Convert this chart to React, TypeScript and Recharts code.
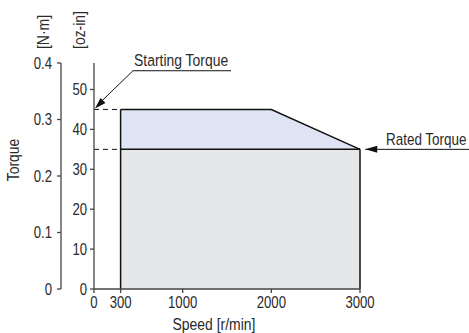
import React from "react"
import { Area, ComposedChart, ReferenceDot, ReferenceLine, XAxis, YAxis } from "recharts"

// speed-torque characteristics (torque in oz-in)
const speedRpm = [300, 2000, 3000]
const continuousOzIn = [35, 35, 35]
const limitedOzIn = [45, 45, 35]
const startingTorqueOzIn = 45
const ratedTorqueOzIn = 35

const speedTicks = [0, 300, 1000, 2000, 3000]
const nmTicks = [0, 0.1, 0.2, 0.3, 0.4]
const ozTicks = [0, 10, 20, 30, 40, 50]
const OZIN_PER_NM = 141.6
const OZ_MAX = 0.4 * OZIN_PER_NM

const FONT = "'Liberation Sans', Arial, sans-serif"
const SQUEEZE = 0.82 // fake a condensed face
const INK = "#2a2a2a"
const AXIS = "#444"

const data = speedRpm.map((s, i) => ({
  speed: s,
  cont: continuousOzIn[i],
  limited: [continuousOzIn[i], limitedOzIn[i]],
}))

function NarrowText({ x, y, anchor = "start", size = 17, rotate = 0, dy, children }: any) {
  return (
    <text
      transform={`translate(${x},${y}) rotate(${rotate}) scale(${SQUEEZE},1)`}
      textAnchor={anchor}
      dy={dy}
      fontFamily={FONT}
      fontSize={size}
      fill={INK}
    >
      {children}
    </text>
  )
}

const makeTick = (fmt: (v: number) => string, vertical: boolean) => (props: any) => (
  <NarrowText
    x={props.x}
    y={props.y}
    anchor={props.textAnchor}
    size={16}
    dy={vertical ? "0.355em" : "0.71em"}
  >
    {fmt(props.payload.value)}
  </NarrowText>
)

// axes are stacked by id: the first sorts next to the plot
const OZ = "a_oz"
const NM = "b_nm"

export default function App() {
  return (
    <div style={{ position: "absolute", left: 0, top: 0, width: 469, height: 333, background: "#fff" }}>
      <ComposedChart width={469} height={333} data={data} margin={{ top: 63, right: 109, bottom: 0, left: 0 }}>
        <XAxis
          type="number"
          dataKey="speed"
          domain={[0, 3000]}
          ticks={speedTicks}
          tick={makeTick((v) => String(v), false)}
          tickSize={4}
          tickMargin={4}
          height={44}
          stroke={AXIS}
          strokeWidth={1.3}
          interval={0}
        />
        <YAxis
          yAxisId={OZ}
          domain={[0, OZ_MAX]}
          ticks={ozTicks}
          tick={makeTick((v) => String(v), true)}
          tickSize={4}
          tickMargin={3}
          width={33}
          stroke={AXIS}
          strokeWidth={1.3}
          interval={0}
          allowDataOverflow
        />
        <YAxis
          yAxisId={NM}
          domain={[0, 0.4]}
          ticks={nmTicks}
          tick={makeTick((v) => (v === 0 ? "0" : v.toFixed(1)), true)}
          tickSize={4}
          tickMargin={5}
          width={61}
          stroke={AXIS}
          strokeWidth={1.3}
          interval={0}
          allowDataOverflow
        />
        <Area
          yAxisId={OZ}
          type="linear"
          dataKey="cont"
          fill="#e6e7e9"
          fillOpacity={1}
          stroke="#111"
          strokeWidth={1.5}
          dot={false}
          activeDot={false}
          isAnimationActive={false}
        />
        <Area
          yAxisId={OZ}
          type="linear"
          dataKey="limited"
          fill="#dfe4f4"
          fillOpacity={1}
          stroke="#111"
          strokeWidth={1.5}
          dot={false}
          activeDot={false}
          isAnimationActive={false}
        />
        {/* region edges */}
        <ReferenceLine
          yAxisId={OZ}
          segment={[{ x: speedRpm[0], y: 0 }, { x: speedRpm[0], y: limitedOzIn[0] }]}
          stroke="#111"
          strokeWidth={1.5}
        />
        <ReferenceLine
          yAxisId={OZ}
          segment={[{ x: speedRpm[2], y: 0 }, { x: speedRpm[2], y: continuousOzIn[2] }]}
          stroke="#111"
          strokeWidth={1.5}
        />
        {/* dashed guides */}
        <ReferenceLine
          yAxisId={OZ}
          segment={[{ x: 0, y: startingTorqueOzIn }, { x: speedRpm[0], y: startingTorqueOzIn }]}
          stroke="#111"
          strokeDasharray="5 4"
        />
        <ReferenceLine
          yAxisId={OZ}
          segment={[{ x: 0, y: ratedTorqueOzIn }, { x: speedRpm[0], y: ratedTorqueOzIn }]}
          stroke="#111"
          strokeDasharray="5 4"
        />
        {/* starting torque callout */}
        <ReferenceLine
          yAxisId={OZ}
          ifOverflow="visible"
          segment={[{ x: 40, y: 46.1 }, { x: 440, y: 54.7 }]}
          stroke="#111"
          strokeWidth={1}
        />
        <ReferenceLine
          yAxisId={OZ}
          ifOverflow="visible"
          segment={[{ x: 440, y: 54.7 }, { x: 1546, y: 54.7 }]}
          stroke="#111"
          strokeWidth={1}
        />
        <ReferenceDot
          yAxisId={OZ}
          x={0}
          y={startingTorqueOzIn}
          r={1}
          ifOverflow="visible"
          shape={(p: any) => (
            <path d={`M${p.cx + 1},${p.cy - 1} L${p.cx + 11.5},${p.cy - 6.5} L${p.cx + 6.5},${p.cy - 11.5} Z`} fill="#111" />
          )}
        />
        {/* rated torque callout */}
        <ReferenceLine
          yAxisId={OZ}
          ifOverflow="visible"
          segment={[{ x: 3059, y: ratedTorqueOzIn }, { x: 4300, y: ratedTorqueOzIn }]}
          stroke="#111"
          strokeWidth={1}
        />
        <ReferenceDot
          yAxisId={OZ}
          x={3059}
          y={ratedTorqueOzIn}
          r={1}
          ifOverflow="visible"
          shape={(p: any) => (
            <path d={`M${p.cx},${p.cy} L${p.cx + 12},${p.cy - 3.5} L${p.cx + 12},${p.cy + 3.5} Z`} fill="#111" />
          )}
        />
        <NarrowText x={134} y={66}>Starting Torque</NarrowText>
        <NarrowText x={386} y={145} size={16.4}>Rated Torque</NarrowText>
        <NarrowText x={205.5} y={135} anchor="middle">Limited Duty Region</NarrowText>
        <NarrowText x={224.5} y={228} anchor="middle">Continuous Duty Region</NarrowText>
        <NarrowText x={214} y={330} anchor="middle">Speed [r/min]</NarrowText>
        <NarrowText x={19} y={160} rotate={-90} anchor="middle">Torque</NarrowText>
        <NarrowText x={49} y={32} rotate={-90} anchor="middle">[N·m]</NarrowText>
        <NarrowText x={85} y={30} rotate={-90} anchor="middle">[oz-in]</NarrowText>
      </ComposedChart>
    </div>
  )
}
